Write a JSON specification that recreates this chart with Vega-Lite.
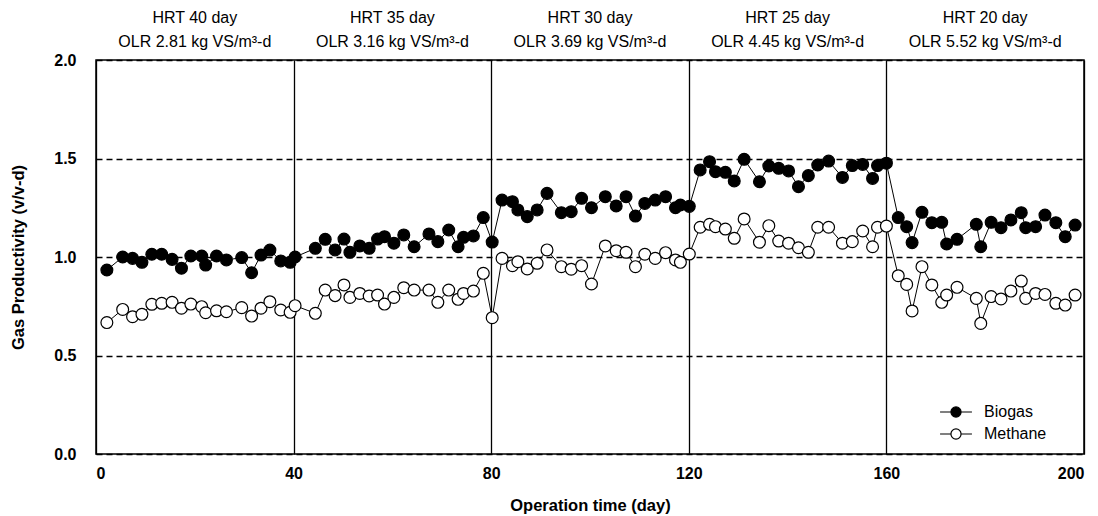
{
  "$schema": "https://vega.github.io/schema/vega-lite/v6.json",
  "width": 988,
  "height": 394,
  "autosize": {"type": "none"},
  "padding": {"left": 96, "top": 60, "right": 14, "bottom": 62},
  "background": "white",
  "config": {
    "font": "Liberation Sans",
    "view": {"stroke": "black", "strokeWidth": 1.5}
  },
  "datasets": {
    "gas": [
      {"day": 2.2, "Biogas": 0.934, "Methane": 0.667},
      {"day": 5.4, "Biogas": 1.0, "Methane": 0.734},
      {"day": 7.4, "Biogas": 0.993, "Methane": 0.697},
      {"day": 9.3, "Biogas": 0.973, "Methane": 0.709},
      {"day": 11.3, "Biogas": 1.014, "Methane": 0.76},
      {"day": 13.3, "Biogas": 1.014, "Methane": 0.765},
      {"day": 15.4, "Biogas": 0.988, "Methane": 0.77},
      {"day": 17.3, "Biogas": 0.943, "Methane": 0.74},
      {"day": 19.2, "Biogas": 1.005, "Methane": 0.761},
      {"day": 21.4, "Biogas": 1.005, "Methane": 0.748},
      {"day": 22.2, "Biogas": 0.959, "Methane": 0.717},
      {"day": 24.4, "Biogas": 1.005, "Methane": 0.727},
      {"day": 26.4, "Biogas": 0.985, "Methane": 0.722},
      {"day": 29.5, "Biogas": 0.997, "Methane": 0.743},
      {"day": 31.5, "Biogas": 0.92, "Methane": 0.7},
      {"day": 33.4, "Biogas": 1.01, "Methane": 0.74},
      {"day": 35.2, "Biogas": 1.035, "Methane": 0.773},
      {"day": 37.4, "Biogas": 0.98, "Methane": 0.731},
      {"day": 39.3, "Biogas": 0.973, "Methane": 0.719},
      {"day": 40.3, "Biogas": 1.0, "Methane": 0.753},
      {"day": 44.4, "Biogas": 1.044, "Methane": 0.714},
      {"day": 46.4, "Biogas": 1.09, "Methane": 0.832},
      {"day": 48.4, "Biogas": 1.036, "Methane": 0.804},
      {"day": 50.2, "Biogas": 1.091, "Methane": 0.858},
      {"day": 51.4, "Biogas": 1.024, "Methane": 0.795},
      {"day": 53.4, "Biogas": 1.056, "Methane": 0.815},
      {"day": 55.3, "Biogas": 1.044, "Methane": 0.802},
      {"day": 57.0, "Biogas": 1.091, "Methane": 0.807},
      {"day": 58.4, "Biogas": 1.103, "Methane": 0.761},
      {"day": 60.3, "Biogas": 1.07, "Methane": 0.795},
      {"day": 62.3, "Biogas": 1.112, "Methane": 0.844},
      {"day": 64.4, "Biogas": 1.052, "Methane": 0.832},
      {"day": 67.4, "Biogas": 1.117, "Methane": 0.832},
      {"day": 69.2, "Biogas": 1.078, "Methane": 0.77},
      {"day": 71.4, "Biogas": 1.137, "Methane": 0.832},
      {"day": 73.3, "Biogas": 1.052, "Methane": 0.785},
      {"day": 74.4, "Biogas": 1.1, "Methane": 0.815},
      {"day": 76.4, "Biogas": 1.107, "Methane": 0.827},
      {"day": 78.4, "Biogas": 1.2, "Methane": 0.917},
      {"day": 80.2, "Biogas": 1.076, "Methane": 0.692},
      {"day": 82.2, "Biogas": 1.289, "Methane": 0.993},
      {"day": 84.3, "Biogas": 1.281, "Methane": 0.956},
      {"day": 85.4, "Biogas": 1.239, "Methane": 0.976},
      {"day": 87.3, "Biogas": 1.205, "Methane": 0.939},
      {"day": 89.3, "Biogas": 1.239, "Methane": 0.968},
      {"day": 91.3, "Biogas": 1.323, "Methane": 1.036},
      {"day": 94.2, "Biogas": 1.225, "Methane": 0.951},
      {"day": 96.2, "Biogas": 1.23, "Methane": 0.938},
      {"day": 98.3, "Biogas": 1.298, "Methane": 0.956},
      {"day": 100.3, "Biogas": 1.25, "Methane": 0.863},
      {"day": 103.1, "Biogas": 1.306, "Methane": 1.056},
      {"day": 105.3, "Biogas": 1.259, "Methane": 1.032},
      {"day": 107.3, "Biogas": 1.306, "Methane": 1.024},
      {"day": 109.2, "Biogas": 1.208, "Methane": 0.951},
      {"day": 111.1, "Biogas": 1.272, "Methane": 1.014},
      {"day": 113.2, "Biogas": 1.289, "Methane": 0.993},
      {"day": 115.3, "Biogas": 1.306, "Methane": 1.022},
      {"day": 117.3, "Biogas": 1.25, "Methane": 0.985},
      {"day": 118.3, "Biogas": 1.264, "Methane": 0.973},
      {"day": 120.1, "Biogas": 1.257, "Methane": 1.015},
      {"day": 122.3, "Biogas": 1.442, "Methane": 1.151},
      {"day": 124.2, "Biogas": 1.484, "Methane": 1.166},
      {"day": 125.4, "Biogas": 1.433, "Methane": 1.154},
      {"day": 127.4, "Biogas": 1.43, "Methane": 1.142},
      {"day": 129.2, "Biogas": 1.386, "Methane": 1.095},
      {"day": 131.2, "Biogas": 1.496, "Methane": 1.193},
      {"day": 134.3, "Biogas": 1.382, "Methane": 1.075},
      {"day": 136.2, "Biogas": 1.462, "Methane": 1.159},
      {"day": 138.2, "Biogas": 1.45, "Methane": 1.081},
      {"day": 140.2, "Biogas": 1.437, "Methane": 1.07},
      {"day": 142.2, "Biogas": 1.357, "Methane": 1.047},
      {"day": 144.2, "Biogas": 1.413, "Methane": 1.024},
      {"day": 146.1, "Biogas": 1.467, "Methane": 1.151},
      {"day": 148.3, "Biogas": 1.487, "Methane": 1.151},
      {"day": 151.1, "Biogas": 1.404, "Methane": 1.07},
      {"day": 153.1, "Biogas": 1.464, "Methane": 1.078},
      {"day": 155.2, "Biogas": 1.47, "Methane": 1.132},
      {"day": 157.2, "Biogas": 1.399, "Methane": 1.052},
      {"day": 158.2, "Biogas": 1.464, "Methane": 1.151},
      {"day": 160.0, "Biogas": 1.476, "Methane": 1.157},
      {"day": 162.4, "Biogas": 1.2, "Methane": 0.905},
      {"day": 164.1, "Biogas": 1.154, "Methane": 0.861},
      {"day": 165.2, "Biogas": 1.073, "Methane": 0.726},
      {"day": 167.2, "Biogas": 1.227, "Methane": 0.951},
      {"day": 169.2, "Biogas": 1.174, "Methane": 0.858},
      {"day": 171.2, "Biogas": 1.176, "Methane": 0.77},
      {"day": 172.2, "Biogas": 1.066, "Methane": 0.807},
      {"day": 174.3, "Biogas": 1.09, "Methane": 0.846},
      {"day": 178.2, "Biogas": 1.166, "Methane": 0.79},
      {"day": 179.1, "Biogas": 1.052, "Methane": 0.663},
      {"day": 181.2, "Biogas": 1.176, "Methane": 0.799},
      {"day": 183.2, "Biogas": 1.149, "Methane": 0.787},
      {"day": 185.2, "Biogas": 1.188, "Methane": 0.827},
      {"day": 187.3, "Biogas": 1.225, "Methane": 0.878},
      {"day": 188.2, "Biogas": 1.149, "Methane": 0.79},
      {"day": 190.2, "Biogas": 1.154, "Methane": 0.815},
      {"day": 192.1, "Biogas": 1.213, "Methane": 0.81},
      {"day": 194.3, "Biogas": 1.174, "Methane": 0.765},
      {"day": 196.2, "Biogas": 1.103, "Methane": 0.756},
      {"day": 198.2, "Biogas": 1.162, "Methane": 0.807}
    ],
    "headers": [
      {"mid": 20, "l1": "HRT 40 day", "l2": "OLR 2.81 kg VS/m³-d"},
      {"mid": 60, "l1": "HRT 35 day", "l2": "OLR 3.16 kg VS/m³-d"},
      {"mid": 100, "l1": "HRT 30 day", "l2": "OLR 3.69 kg VS/m³-d"},
      {"mid": 140, "l1": "HRT 25 day", "l2": "OLR 4.45 kg VS/m³-d"},
      {"mid": 180, "l1": "HRT 20 day", "l2": "OLR 5.52 kg VS/m³-d"}
    ]
  },
  "layer": [
    {
      "data": {"name": "gas"},
      "transform": [{"fold": ["Biogas", "Methane"], "as": ["series", "value"]}],
      "mark": {"type": "line", "color": "black", "strokeWidth": 1},
      "encoding": {
        "x": {
          "field": "day", "type": "quantitative",
          "scale": {"domain": [0, 200], "nice": false},
          "axis": {
            "title": "Operation time (day)",
            "values": [0, 40, 80, 120, 160, 200],
            "format": "d",
            "grid": true, "gridColor": "black", "gridWidth": 1.3, "gridOpacity": 1,
            "domain": false, "ticks": false,
            "labelPadding": 11, "labelFontSize": 16, "labelFontWeight": "bold", "labelColor": "black",
            "titleFontSize": 16.5, "titleFontWeight": "bold", "titleColor": "black", "titlePadding": 16
          }
        },
        "y": {
          "field": "value", "type": "quantitative",
          "scale": {"domain": [0, 2], "nice": false},
          "axis": {
            "title": "Gas Productivity (v/v-d)",
            "values": [0, 0.5, 1, 1.5, 2],
            "format": ".1f",
            "grid": true, "gridColor": "black", "gridWidth": 1.3, "gridOpacity": 1, "gridDash": [6, 4],
            "domain": false, "ticks": false,
            "labelPadding": 20, "labelFontSize": 16, "labelFontWeight": "bold", "labelColor": "black",
            "titleFontSize": 16.5, "titleFontWeight": "bold", "titleColor": "black", "titlePadding": 27
          }
        },
        "detail": {"field": "series", "type": "nominal"}
      }
    },
    {
      "data": {"name": "gas"},
      "transform": [{"fold": ["Biogas", "Methane"], "as": ["series", "value"]}],
      "mark": {"type": "point", "shape": "circle", "filled": true, "size": 140, "stroke": "black", "strokeWidth": 1.2, "opacity": 1},
      "encoding": {
        "x": {"field": "day", "type": "quantitative"},
        "y": {"field": "value", "type": "quantitative"},
        "fill": {
          "field": "series", "type": "nominal",
          "scale": {"domain": ["Biogas", "Methane"], "range": ["black", "white"]},
          "legend": {
            "title": null,
            "orient": "none",
            "legendX": 852,
            "legendY": 344,
            "symbolType": "M-2.2,0H-0.7M0.7,0H2.2M0.7,0A0.7,0.7 0 1 1 -0.7,0A0.7,0.7 0 1 1 0.7,0",
            "symbolSize": 210,
            "symbolStrokeColor": "black",
            "symbolStrokeWidth": 1.2,
            "labelFontSize": 16,
            "labelColor": "black",
            "labelOffset": 20,
            "rowPadding": 6
          }
        }
      }
    },
    {
      "data": {"name": "headers"},
      "mark": {"type": "text", "fontSize": 16, "color": "black", "baseline": "middle", "dy": -42},
      "encoding": {
        "x": {"field": "mid", "type": "quantitative"},
        "y": {"datum": 2},
        "text": {"field": "l1"}
      }
    },
    {
      "data": {"name": "headers"},
      "mark": {"type": "text", "fontSize": 16, "color": "black", "baseline": "middle", "dy": -18},
      "encoding": {
        "x": {"field": "mid", "type": "quantitative"},
        "y": {"datum": 2},
        "text": {"field": "l2"}
      }
    }
  ]
}
